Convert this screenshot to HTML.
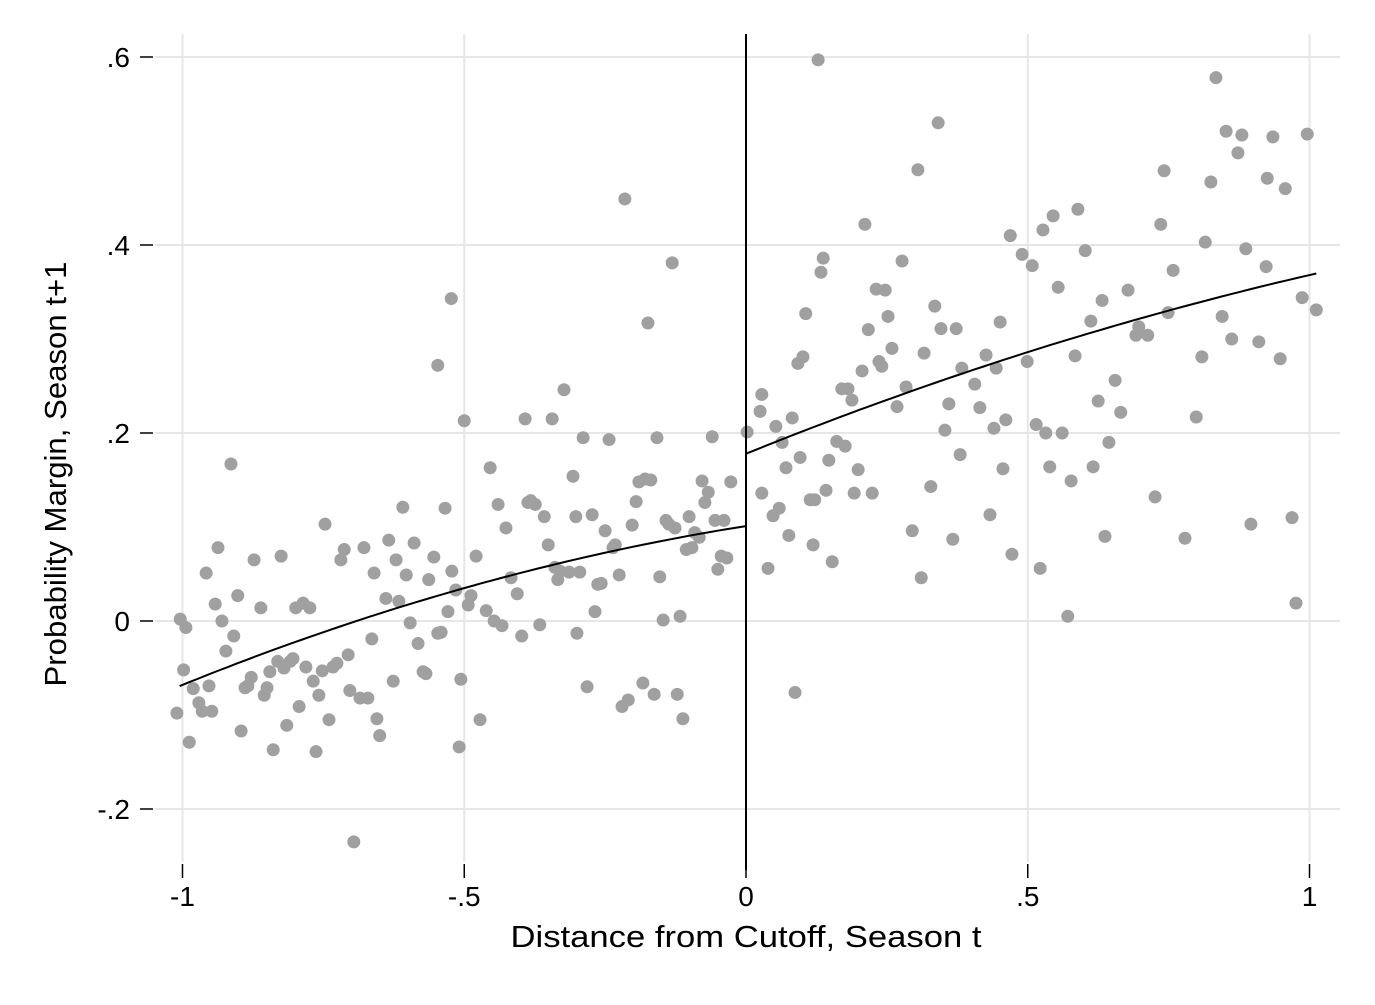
<!DOCTYPE html>
<html><head><meta charset="utf-8"><style>
html,body{margin:0;padding:0;background:#fff;}
svg text{font-family:"Liberation Sans",Arial,sans-serif;fill:#000;}
</style></head><body>
<svg id="chart" width="1375" height="1000" viewBox="0 0 1375 1000" xmlns="http://www.w3.org/2000/svg">
<rect width="1375" height="1000" fill="#fff"/>
<g id="grid"></g>
<g id="axes"></g>
<g id="pts"></g>
<g id="fits"></g>
<text x="746" y="947" font-size="31" text-anchor="middle" textLength="471" lengthAdjust="spacingAndGlyphs">Distance from Cutoff, Season t</text>
<text transform="translate(66,474) rotate(-90)" font-size="31" text-anchor="middle" textLength="425" lengthAdjust="spacingAndGlyphs">Probability Margin, Season t+1</text>
</svg>
<script>
const xTicks=[-1,-0.5,0,0.5,1];
const xTickLabels=["-1","-.5","0",".5","1"];
const yTicks=[-0.2,0,0.2,0.4,0.6];
const yTickLabels=["-.2","0",".2",".4",".6"];
const xs=[-1.004,-0.998,-0.994,-1.010,-0.988,-0.981,-0.971,-0.965,-0.958,-0.953,-0.948,-0.942,-0.937,-0.930,-0.923,-0.914,-0.909,-0.902,-0.896,-0.889,-0.884,-0.878,-0.873,-0.861,-0.855,-0.850,-0.845,-0.839,-0.831,-0.825,-0.820,-0.815,-0.809,-0.804,-0.799,-0.793,-0.786,-0.781,-0.774,-0.768,-0.763,-0.758,-0.752,-0.747,-0.740,-0.733,-0.726,-0.719,-0.713,-0.706,-0.703,-0.696,-0.685,-0.678,-0.671,-0.664,-0.660,-0.655,-0.650,-0.639,-0.634,-0.626,-0.621,-0.616,-0.609,-0.603,-0.596,-0.589,-0.582,-0.573,-0.568,-0.563,-0.554,-0.547,-0.547,-0.541,-0.534,-0.529,-0.523,-0.522,-0.515,-0.509,-0.506,-0.500,-0.493,-0.488,-0.479,-0.472,-0.461,-0.454,-0.447,-0.440,-0.433,-0.426,-0.417,-0.406,-0.398,-0.392,-0.387,-0.382,-0.374,-0.366,-0.358,-0.351,-0.344,-0.339,-0.334,-0.330,-0.323,-0.314,-0.307,-0.302,-0.300,-0.295,-0.289,-0.282,-0.273,-0.268,-0.263,-0.257,-0.250,-0.243,-0.236,-0.232,-0.225,-0.220,-0.215,-0.209,-0.202,-0.195,-0.190,-0.183,-0.179,-0.174,-0.169,-0.163,-0.158,-0.153,-0.147,-0.142,-0.137,-0.131,-0.126,-0.122,-0.117,-0.112,-0.106,-0.101,-0.096,-0.091,-0.083,-0.078,-0.073,-0.067,-0.060,-0.055,-0.050,-0.044,-0.039,-0.034,-0.027,
0.002,0.025,0.028,0.028,0.039,0.048,0.053,0.059,0.064,0.071,0.076,0.082,0.087,0.092,0.096,0.101,0.106,0.114,0.119,0.122,0.128,0.133,0.137,0.142,0.147,0.153,0.161,0.170,0.176,0.181,0.188,0.192,0.199,0.206,0.211,0.217,0.224,0.231,0.236,0.241,0.247,0.252,0.259,0.268,0.277,0.284,0.295,0.305,0.311,0.316,0.328,0.335,0.341,0.346,0.353,0.360,0.367,0.373,0.380,0.383,0.406,0.415,0.426,0.433,0.440,0.444,0.451,0.456,0.461,0.469,0.472,0.490,0.499,0.508,0.515,0.522,0.527,0.532,0.539,0.545,0.554,0.561,0.571,0.577,0.584,0.589,0.602,0.612,0.616,0.625,0.632,0.637,0.644,0.655,0.665,0.678,0.692,0.697,0.713,0.726,0.736,0.742,0.749,0.758,0.779,0.799,0.809,0.815,0.825,0.834,0.845,0.852,0.862,0.873,0.880,0.887,0.896,0.910,0.923,0.925,0.935,0.948,0.957,0.969,0.976,0.987,0.996,1.012];
const ys=[0.002,-0.052,-0.007,-0.098,-0.129,-0.072,-0.087,-0.096,0.051,-0.069,-0.096,0.018,0.078,0,-0.032,0.167,-0.016,0.027,-0.117,-0.071,-0.069,-0.060,0.065,0.014,-0.079,-0.071,-0.054,-0.137,-0.043,0.069,-0.050,-0.111,-0.043,-0.040,0.014,-0.091,0.019,-0.049,0.014,-0.064,-0.139,-0.079,-0.053,0.103,-0.105,-0.049,-0.045,0.065,0.076,-0.036,-0.074,-0.235,-0.082,0.078,-0.082,-0.019,0.051,-0.104,-0.122,0.024,0.086,-0.064,0.065,0.021,0.121,0.049,-0.002,0.083,-0.024,-0.054,-0.056,0.044,0.068,0.272,-0.013,-0.012,0.120,0.010,0.343,0.053,0.033,-0.134,-0.062,0.213,0.017,0.027,0.069,-0.105,0.011,0.163,0,0.124,-0.005,0.099,0.046,0.029,-0.016,0.215,0.126,0.128,0.124,-0.004,0.111,0.081,0.215,0.057,0.044,0.053,0.246,0.052,0.154,0.111,-0.013,0.052,0.195,-0.070,0.113,0.010,0.039,0.040,0.096,0.193,0.078,0.081,0.049,-0.091,0.449,-0.084,0.102,0.127,0.148,-0.066,0.151,0.317,0.150,-0.078,0.195,0.047,0.001,0.107,0.103,0.381,0.099,-0.078,0.005,-0.104,0.076,0.111,0.078,0.094,0.089,0.149,0.126,0.137,0.196,0.107,0.055,0.069,0.107,0.067,0.148,
0.201,0.223,0.241,0.136,0.056,0.112,0.207,0.120,0.190,0.163,0.091,0.216,-0.076,0.274,0.174,0.281,0.327,0.129,0.081,0.129,0.597,0.371,0.386,0.139,0.171,0.063,0.191,0.247,0.186,0.247,0.235,0.136,0.161,0.266,0.422,0.310,0.136,0.353,0.276,0.271,0.352,0.324,0.290,0.228,0.383,0.249,0.096,0.480,0.046,0.285,0.143,0.335,0.530,0.311,0.203,0.231,0.087,0.311,0.177,0.269,0.252,0.227,0.283,0.113,0.205,0.269,0.318,0.162,0.214,0.410,0.071,0.390,0.276,0.378,0.209,0.056,0.416,0.200,0.164,0.431,0.355,0.200,0.005,0.149,0.282,0.438,0.394,0.319,0.164,0.234,0.341,0.090,0.190,0.256,0.222,0.352,0.304,0.313,0.304,0.132,0.422,0.479,0.328,0.373,0.088,0.217,0.281,0.403,0.467,0.578,0.324,0.521,0.300,0.498,0.517,0.396,0.103,0.297,0.377,0.471,0.515,0.279,0.460,0.110,0.019,0.344,0.518,0.331];
const leftFit=[0.101,0.095,-0.074];  // a,b,c
const rightFit=[0.178,0.242,-0.052];
const leftRange=[-1.005,0];
const rightRange=[0,1.012];

const NS="http://www.w3.org/2000/svg";
const X=v=>746+v*563.5;
const Y=v=>621-v*940;
function mk(tag,attrs,parent){const e=document.createElementNS(NS,tag);for(const k in attrs)e.setAttribute(k,attrs[k]);parent.appendChild(e);return e;}
const grid=document.getElementById('grid'),axes=document.getElementById('axes'),pts=document.getElementById('pts'),fits=document.getElementById('fits');
yTicks.forEach((t,i)=>{
  const g=mk('line',{x1:155,x2:1340,y1:Y(t),y2:Y(t),stroke:'#e6e6e6','stroke-width':2},grid);
  
  
  const tk=mk('line',{x1:140,x2:153,y1:Y(t),y2:Y(t),stroke:'#000','stroke-width':1.5},axes);
  
  
  const tx=mk('text',{x:130,y:Y(t)+10,'font-size':28,'text-anchor':'end'},axes);
  tx.textContent=yTickLabels[i];
  
  
});
xTicks.forEach((t,i)=>{
  if(t!==0){const g=mk('line',{x1:X(t),x2:X(t),y1:34,y2:862,stroke:'#e6e6e6','stroke-width':2},grid);
  
  }
  const tk=mk('line',{x1:X(t),x2:X(t),y1:864,y2:878,stroke:'#000','stroke-width':1.5},axes);
  
  
  const tx=mk('text',{x:X(t),y:906,'font-size':28,'text-anchor':'middle'},axes);
  tx.textContent=xTickLabels[i];
  
  
});
xs.forEach((v,i)=>{
  const c=mk('circle',{cx:X(v),cy:Y(ys[i]),r:6.5,fill:'#a0a0a0'},pts);
  
  
});
const cut=mk('line',{x1:X(0),x2:X(0),y1:34,y2:870,stroke:'#000','stroke-width':2},fits);


function fit(co,rg,name){
  let d='';const n=60;
  for(let k=0;k<=n;k++){const x=rg[0]+(rg[1]-rg[0])*k/n;const y=co[0]+co[1]*x+co[2]*x*x;d+=(k?'L':'M')+X(x).toFixed(1)+','+Y(y).toFixed(1);}
  const p=mk('path',{d:d,fill:'none',stroke:'#000','stroke-width':2},fits);
  
  
}
fit(leftFit,leftRange,'left-fit-line');
fit(rightFit,rightRange,'right-fit-line');
</script>
</body></html>
